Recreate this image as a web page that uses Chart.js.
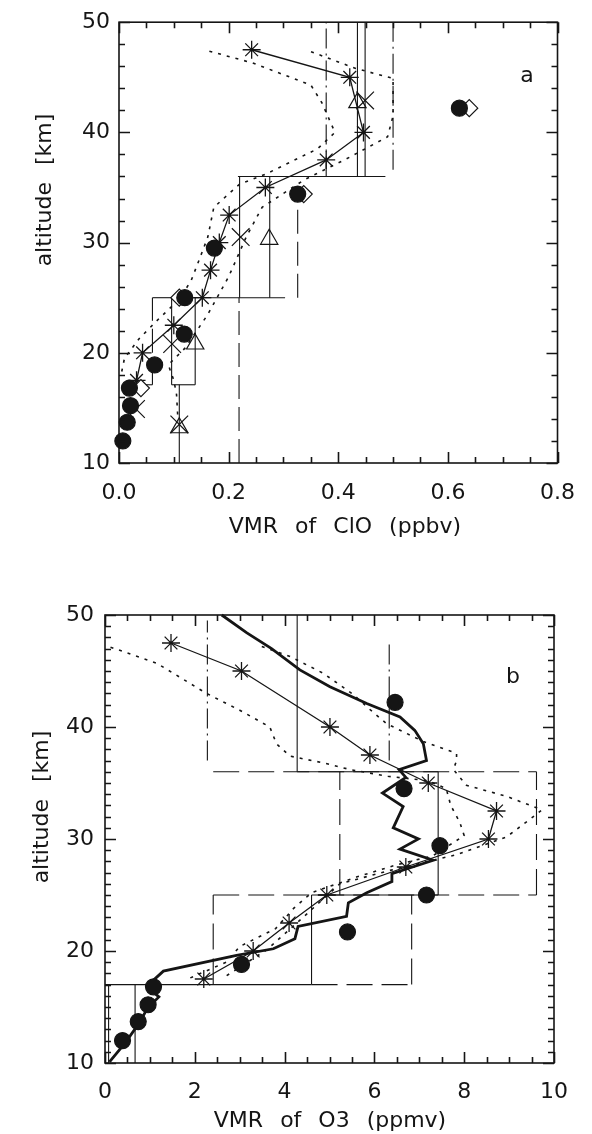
<!DOCTYPE html>
<html>
<head>
<meta charset="utf-8">
<script src="https://cdn.jsdelivr.net/npm/chart.js@4.4.1/dist/chart.umd.min.js"></script>
<style>
  html, body { margin: 0; padding: 0; background: #fff; }
  body { width: 592px; height: 1134px; position: relative; overflow: hidden; }
  canvas { position: absolute; left: 0; }
  #chartA { top: 0; }
  #chartB { top: 567px; }
</style>
</head>
<body>
<canvas id="chartA" width="592" height="567"></canvas>
<canvas id="chartB" width="592" height="567"></canvas>
<script>
// ---- shared axis ticks ----
const altTicks = [10, 20, 30, 40, 50];
const cloTicks = [0, 0.2, 0.4, 0.6, 0.8];
const o3Ticks = [0, 2, 4, 6, 8, 10];

// ---- panel a: ClO (ppbv) ----
const cloStarAlt = [17.5, 20.0, 22.5, 25.0, 27.5, 30.0, 32.5, 35.0, 37.5, 40.0, 45.0, 47.5];
const cloStarVmr = [0.032, 0.043, 0.100, 0.152, 0.167, 0.183, 0.201, 0.267, 0.378, 0.446, 0.421, 0.242];

const cloLowAlt = [18.3, 19.5, 21.3, 23.1, 24.9, 26.6, 28.4, 30.5, 33.2, 35.3, 36.2, 38.5, 40.0, 42.7, 44.3, 46.3, 47.5];
const cloLowVmr = [0.005, 0.010, 0.037, 0.073, 0.111, 0.132, 0.146, 0.162, 0.173, 0.220, 0.267, 0.362, 0.394, 0.370, 0.350, 0.244, 0.155];

const cloHighAlt = [14.4, 16.2, 17.5, 18.9, 20.4, 23.4, 26.9, 30.5, 33.2, 35.7, 37.6, 39.6, 41.5, 44.9, 45.8, 47.5];
const cloHighVmr = [0.107, 0.105, 0.100, 0.090, 0.120, 0.161, 0.200, 0.232, 0.261, 0.338, 0.415, 0.490, 0.500, 0.500, 0.432, 0.341];

const cloCrossAlt = [13.5, 14.9, 20.8, 30.5, 42.9];
const cloCrossVmr = [0.110, 0.031, 0.097, 0.222, 0.449];

const cloTriAlt = [13.2, 20.8, 30.3, 42.7];
const cloTriVmr = [0.110, 0.139, 0.274, 0.435];

const cloDotAlt = [12.0, 13.7, 15.2, 16.8, 18.9, 21.7, 25.0, 29.5, 34.4, 42.2];
const cloDotVmr = [0.007, 0.015, 0.021, 0.019, 0.065, 0.119, 0.120, 0.174, 0.326, 0.621];

const cloDiaAlt = [16.8, 25.0, 34.4, 42.2];
const cloDiaVmr = [0.040, 0.110, 0.337, 0.639];

// layer boxes: [vmr1, alt1, vmr2, alt2]
const cloSolid = [
  [0.110, 10.0, 0.110, 17.1],
  [0.096, 17.1, 0.139, 17.1],
  [0.096, 17.1, 0.096, 25.0],
  [0.139, 17.1, 0.139, 25.0],
  [0.096, 25.0, 0.303, 25.0],
  [0.220, 25.0, 0.220, 36.0],
  [0.275, 25.0, 0.275, 36.0],
  [0.217, 36.0, 0.486, 36.0],
  [0.435, 36.0, 0.435, 50.0],
  [0.449, 36.0, 0.449, 50.0]
];
const cloDash = [
  [0.219, 10.0, 0.219, 25.0],
  [0.025, 17.1, 0.061, 17.1],
  [0.061, 17.1, 0.061, 25.0],
  [0.061, 25.0, 0.096, 25.0],
  [0.326, 25.0, 0.326, 35.0]
];
const cloDashDot = [
  [0.378, 36.0, 0.378, 50.0],
  [0.500, 36.6, 0.500, 50.0]
];

// ---- panel b: O3 (ppmv) ----
const o3StarAlt = [17.5, 20.0, 22.5, 25.0, 27.5, 30.0, 32.5, 35.0, 37.5, 40.0, 45.0, 47.5];
const o3StarVmr = [2.20, 3.30, 4.10, 4.94, 6.70, 8.54, 8.72, 7.20, 5.90, 5.01, 3.04, 1.47];

const o3ModelAlt = [10.1, 11.8, 13.5, 14.9, 15.9, 16.6, 17.4, 18.2, 19.6, 20.2, 21.1, 22.2, 23.1, 24.3, 25.2, 26.2, 26.9, 28.1, 29.1, 30.0, 31.0, 32.9, 34.1, 35.5, 36.2, 37.0, 38.5, 39.7, 40.9, 42.1, 43.6, 45.1, 47.0, 48.4, 50.0];
const o3ModelVmr = [0.10, 0.45, 0.75, 0.95, 1.20, 1.00, 1.08, 1.30, 2.93, 3.75, 4.23, 4.30, 5.38, 5.42, 5.83, 6.39, 6.39, 7.31, 6.57, 6.98, 6.42, 6.64, 6.18, 6.70, 6.55, 7.16, 7.09, 6.90, 6.57, 5.83, 5.01, 4.34, 3.71, 3.16, 2.60];

const o3LowAlt = [17.6, 19.0, 20.4, 22.0, 23.8, 25.2, 26.6, 27.7, 28.5, 30.3, 31.5, 33.0, 34.5, 35.2, 35.6, 36.2, 36.8, 37.4, 38.5, 40.0, 41.5, 43.0, 45.7, 47.3];
const o3LowVmr = [1.90, 2.70, 3.00, 3.80, 4.20, 4.60, 5.60, 6.50, 7.30, 8.00, 7.90, 7.70, 7.60, 7.20, 6.30, 5.46, 4.86, 4.12, 3.82, 3.67, 3.00, 2.26, 1.15, 0.00];

const o3HighAlt = [17.8, 20.1, 23.0, 26.0, 27.2, 28.6, 30.2, 32.0, 32.6, 33.8, 34.8, 36.2, 37.0, 37.65, 38.7, 40.3, 41.7, 42.9, 44.8, 46.3, 47.2];
const o3HighVmr = [2.71, 3.60, 4.41, 5.23, 6.35, 7.83, 8.95, 9.54, 9.73, 8.95, 8.05, 7.76, 7.83, 7.83, 7.09, 6.27, 5.86, 5.53, 4.86, 4.12, 3.49];

const o3DotAlt = [12.0, 13.7, 15.2, 16.8, 18.8, 21.7, 25.0, 29.4, 34.5, 42.2];
const o3DotVmr = [0.39, 0.74, 0.96, 1.08, 3.04, 5.40, 7.16, 7.46, 6.66, 6.46];

const o3Solid = [
  [0.08, 10.0, 0.08, 17.0],
  [0.67, 10.0, 0.67, 17.0],
  [0.00, 17.0, 4.60, 17.0],
  [4.60, 17.0, 4.60, 25.0],
  [4.60, 25.0, 7.42, 25.0],
  [7.42, 25.0, 7.42, 36.0],
  [4.28, 36.0, 7.42, 36.0],
  [4.28, 36.0, 4.28, 50.0]
];
const o3Dash = [
  [2.41, 17.0, 2.41, 25.0],
  [4.60, 17.0, 6.83, 17.0],
  [6.83, 17.0, 6.83, 25.0],
  [2.41, 25.0, 9.61, 25.0],
  [5.23, 25.0, 5.23, 36.0],
  [9.61, 25.0, 9.61, 36.0],
  [2.41, 36.0, 9.61, 36.0]
];
const o3DashDot = [
  [2.28, 37.0, 2.28, 49.5],
  [6.33, 37.0, 6.33, 47.4]
];

const INK = "#151515";
const FONT = "DejaVu Sans";

function pts(xs, ys) {
  return xs.map((v, i) => ({x: v, y: ys[i]}));
}

function segSets(segs, style) {
  return segs.map(s => Object.assign({
    data: [{x: s[0], y: s[1]}, {x: s[2], y: s[3]}],
    showLine: true, pointRadius: 0, borderColor: INK, borderWidth: 1.1, clip: false, order: 5
  }, style));
}

function lineSet(xs, ys, style) {
  return Object.assign({
    data: pts(xs, ys), showLine: true, pointRadius: 0, borderColor: INK,
    borderWidth: 1.2, clip: false, order: 4
  }, style);
}

function markSet(xs, ys, style) {
  return Object.assign({
    data: pts(xs, ys), showLine: false, borderColor: INK, pointBorderColor: INK,
    pointBorderWidth: 1.2, clip: false, order: 2
  }, style);
}

// box with inward ticks on all four sides (IDL style)
function frameTicks(xMinor, xMajor, yMinor, yMajor) {
  return {
    id: "frameTicks",
    afterDraw(chart) {
      const ctx = chart.ctx;
      const a = chart.chartArea;
      const x = chart.scales.x, y = chart.scales.y;
      ctx.save();
      ctx.setLineDash([]);
      ctx.strokeStyle = INK;
      ctx.lineWidth = 1.6;
      ctx.strokeRect(a.left, a.top, a.right - a.left, a.bottom - a.top);
      const xEvery = Math.round(xMajor / xMinor);
      const nx = Math.round((x.max - x.min) / xMinor);
      for (let i = 0; i <= nx; i++) {
        const px = Math.round(x.getPixelForValue(x.min + i * xMinor)) + 0.5;
        const len = (i % xEvery === 0) ? 11 : 6;
        ctx.beginPath();
        ctx.moveTo(px, a.bottom); ctx.lineTo(px, a.bottom - len);
        ctx.moveTo(px, a.top); ctx.lineTo(px, a.top + len);
        ctx.stroke();
      }
      const yEvery = Math.round(yMajor / yMinor);
      const ny = Math.round((y.max - y.min) / yMinor);
      for (let i = 0; i <= ny; i++) {
        const py = Math.round(y.getPixelForValue(y.min + i * yMinor)) + 0.5;
        const len = (i % yEvery === 0) ? 11 : 6;
        ctx.beginPath();
        ctx.moveTo(a.left, py); ctx.lineTo(a.left + len, py);
        ctx.moveTo(a.right, py); ctx.lineTo(a.right - len, py);
        ctx.stroke();
      }
      ctx.restore();
    }
  };
}

// axis titles and panel letter
function panelText(xTitle, xPos, yTitle, yPos, letter, lPos) {
  return {
    id: "panelText",
    afterDraw(chart) {
      const ctx = chart.ctx;
      ctx.save();
      ctx.fillStyle = INK;
      ctx.font = "22px '" + FONT + "'";
      ctx.textAlign = "center";
      ctx.textBaseline = "middle";
      ctx.wordSpacing = "10px";
      ctx.fillText(xTitle, xPos[0], xPos[1]);
      ctx.save();
      ctx.translate(yPos[0], yPos[1]);
      ctx.rotate(-Math.PI / 2);
      ctx.fillText(yTitle, 0, 0);
      ctx.restore();
      ctx.fillText(letter, lPos[0], lPos[1]);
      ctx.restore();
    }
  };
}

function axisCfg(min, max, ticks, fmt, pad, fit) {
  return {
    type: "linear", min: min, max: max,
    grid: {display: false, drawTicks: false},
    border: {display: false},
    ticks: {padding: pad, color: INK, font: {family: FONT, size: 22}, callback: fmt, maxRotation: 0, autoSkip: false},
    afterBuildTicks: s => { s.ticks = ticks.map(v => ({value: v})); },
    afterFit: fit
  };
}

document.addEventListener("DOMContentLoaded", () => {
  Chart.defaults.font.family = FONT;

  const chartA = new Chart(document.getElementById("chartA"), {
    type: "scatter",
    data: {
      datasets: [
        ...segSets(cloSolid, {}),
        ...segSets(cloDash, {borderDash: [24, 8]}),
        ...segSets(cloDashDot, {borderDash: [20, 5, 2, 5]}),
        lineSet(cloLowVmr, cloLowAlt, {borderDash: [3, 6], borderWidth: 1.6}),
        lineSet(cloHighVmr, cloHighAlt, {borderDash: [3, 6], borderWidth: 1.6}),
        lineSet(cloStarVmr, cloStarAlt, {pointStyle: "star", pointRadius: 9, pointBorderWidth: 1.3, borderWidth: 1.3, order: 3}),
        markSet(cloCrossVmr, cloCrossAlt, {pointStyle: "crossRot", pointRadius: 12.5}),
        markSet(cloTriVmr, cloTriAlt, {pointStyle: "triangle", pointRadius: 10, pointBackgroundColor: "rgba(0,0,0,0)"}),
        markSet(cloDiaVmr, cloDiaAlt, {pointStyle: "rectRot", pointRadius: 8.5, pointBackgroundColor: "#fff", order: 1}),
        markSet(cloDotVmr, cloDotAlt, {pointStyle: "circle", pointRadius: 8, pointBackgroundColor: INK, order: 0})
      ]
    },
    options: {
      responsive: false, animation: false, events: [], devicePixelRatio: 1,
      layout: {padding: {left: 0, right: 20, top: 15, bottom: 0}},
      plugins: {legend: {display: false}, tooltip: {enabled: false}},
      scales: {
        x: axisCfg(0, 0.8, cloTicks, v => v.toFixed(1), 17, s => { s.height = 104; }),
        y: axisCfg(10, 50, altTicks, v => String(v), 9, s => { s.width = 119; })
      }
    },
    plugins: [
      frameTicks(0.05, 0.2, 2, 10),
      panelText("VMR of ClO (ppbv)", [345, 527], "altitude [km]", [45, 190], "a", [527, 76])
    ]
  });

  const chartB = new Chart(document.getElementById("chartB"), {
    type: "scatter",
    data: {
      datasets: [
        ...segSets(o3Solid, {}),
        ...segSets(o3Dash, {borderDash: [26, 9]}),
        ...segSets(o3DashDot, {borderDash: [20, 5, 2, 5]}),
        lineSet(o3LowVmr, o3LowAlt, {borderDash: [3, 6], borderWidth: 1.6}),
        lineSet(o3HighVmr, o3HighAlt, {borderDash: [3, 6], borderWidth: 1.6}),
        lineSet(o3ModelVmr, o3ModelAlt, {borderWidth: 2.8}),
        lineSet(o3StarVmr, o3StarAlt, {pointStyle: "star", pointRadius: 9, pointBorderWidth: 1.3, borderWidth: 1.3, order: 3}),
        markSet(o3DotVmr, o3DotAlt, {pointStyle: "circle", pointRadius: 8, pointBackgroundColor: INK, order: 0})
      ]
    },
    options: {
      responsive: false, animation: false, events: [], devicePixelRatio: 1,
      layout: {padding: {left: 0, right: 38, top: 48, bottom: 0}},
      plugins: {legend: {display: false}, tooltip: {enabled: false}},
      scales: {
        x: axisCfg(0, 10, o3Ticks, v => String(v), 16, s => { s.height = 71; }),
        y: axisCfg(10, 50, altTicks, v => String(v), 11, s => { s.width = 105; })
      }
    },
    plugins: [
      frameTicks(0.5, 2, 1, 10),
      panelText("VMR of O3 (ppmv)", [330, 554], "altitude [km]", [42, 240], "b", [513, 110])
    ]
  });
});
</script>
</body>
</html>
